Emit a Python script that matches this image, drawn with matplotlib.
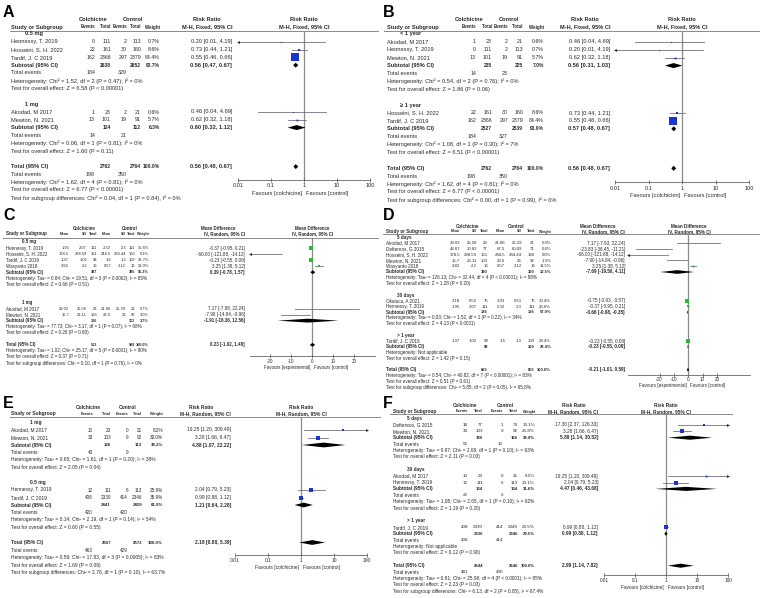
import numpy as np
import matplotlib
matplotlib.use("Agg")
import matplotlib.pyplot as plt
from matplotlib.ticker import NullLocator

plt.rcParams['font.family'] = ['Liberation Sans', 'DejaVu Sans']

# ---------------- A : dose, fixed RR ----------------
A_groups = ["0.5 mg", "1 mg"]
A_study = ["Hennessy, T. 2019", "Hosseini, S. H. 2022", "Tardif, J. C 2019", "Akodad, M 2017", "Mewton, N. 2021"]
A_grp = [0, 0, 0, 1, 1]
A_ev_c = [0, 22, 162, 1, 13]
A_n_c = [111, 161, 2366, 23, 101]
A_ev_k = [2, 30, 297, 2, 19]
A_n_k = [113, 160, 2379, 21, 91]
A_w = [0.7, 8.6, 84.4, 0.6, 5.7]
A_est = [0.20, 0.73, 0.55, 0.46, 0.62]
A_lo = [0.01, 0.44, 0.46, 0.04, 0.32]
A_hi = [4.19, 1.21, 0.66, 4.69, 1.18]
A_sub_n_c = [2638, 124]
A_sub_n_k = [2652, 112]
A_sub_w = [93.7, 6.3]
A_sub_est = [0.56, 0.60]
A_sub_lo = [0.47, 0.32]
A_sub_hi = [0.67, 1.12]
A_sub_ev_c = [184, 14]
A_sub_ev_k = [329, 21]
A_het = ["Heterogeneity: Chi² = 1.52, df = 2 (P = 0.47); I² = 0%",
         "Heterogeneity: Chi² = 0.06, df = 1 (P = 0.81); I² = 0%"]
A_z = ["Test for overall effect: Z = 6.58 (P < 0.00001)",
       "Test for overall effect: Z = 1.60 (P = 0.11)"]
A_tot = [2762, 2764, 100.0, 0.56, 0.48, 0.67]
A_tot_ev = [198, 350]
A_tot_het = "Heterogeneity: Chi² = 1.62, df = 4 (P = 0.81); I² = 0%"
A_tot_z = "Test for overall effect: Z = 6.77 (P < 0.00001)"
A_subdiff = "Test for subgroup differences: Chi² = 0.04, df = 1 (P = 0.84), I² = 0%"

# ---------------- B : follow-up, fixed RR ----------------
B_groups = ["< 1 year", "≥ 1 year"]
B_study = ["Akodad, M 2017", "Hennessy, T. 2019", "Mewton, N. 2021", "Hosseini, S. H. 2022", "Tardif, J. C 2019"]
B_grp = [0, 0, 0, 1, 1]
B_ev_c = [1, 0, 13, 22, 162]
B_n_c = [23, 111, 101, 161, 2366]
B_ev_k = [2, 2, 19, 30, 297]
B_n_k = [21, 113, 91, 160, 2379]
B_w = [0.6, 0.7, 5.7, 8.6, 84.4]
B_est = [0.46, 0.20, 0.62, 0.73, 0.55]
B_lo = [0.04, 0.01, 0.32, 0.44, 0.46]
B_hi = [4.69, 4.19, 1.18, 1.21, 0.66]
B_sub_n_c = [235, 2527]
B_sub_n_k = [225, 2539]
B_sub_w = [7.0, 93.0]
B_sub_est = [0.56, 0.57]
B_sub_lo = [0.31, 0.48]
B_sub_hi = [1.03, 0.67]
B_sub_ev_c = [14, 184]
B_sub_ev_k = [23, 327]
B_het = ["Heterogeneity: Chi² = 0.54, df = 2 (P = 0.76); I² = 0%",
         "Heterogeneity: Chi² = 1.08, df = 1 (P = 0.30); I² = 7%"]
B_z = ["Test for overall effect: Z = 1.86 (P = 0.06)",
       "Test for overall effect: Z = 6.51 (P < 0.00001)"]
B_tot = [2762, 2764, 100.0, 0.56, 0.48, 0.67]
B_tot_ev = [198, 350]
B_tot_het = "Heterogeneity: Chi² = 1.62, df = 4 (P = 0.81); I² = 0%"
B_tot_z = "Test for overall effect: Z = 6.77 (P < 0.00001)"
B_subdiff = "Test for subgroup differences: Chi² = 0.00, df = 1 (P = 0.99), I² = 0%"

# ---------------- C : dose, mean difference ----------------
C_groups = ["0.5 mg", "1 mg"]
C_study = ["Hennessy, T. 2019", "Hosseini, S. H. 2022", "Tardif, J. C 2019", "Wasyanto 2018", "Akodad, M 2017", "Mewton, N. 2021"]
C_grp = [0, 0, 0, 0, 1, 1]
C_mean_c = [1.95, 178.5, 1.37, 3.82, 29.03, 15.7]
C_sd_c = [2.07, 288.59, 1.02, 2.2, 25.58, 23.11]
C_n_c = [111, 161, 99, 16, 23, 103]
C_mean_k = [2.32, 244.5, 1.6, 0.57, 21.86, 23.6]
C_sd_k = [2.3, 284.44, 1.3, 3.12, 25.39, 26]
C_n_k = [111, 160, 109, 16, 21, 92]
C_w = [35.6, 0.1, 38.7, 21.9, 0.7, 3.0]
C_est = [-0.37, -66.00, -0.23, 3.25, 7.17, -7.90]
C_lo = [-0.95, -121.88, -0.55, 1.38, -7.88, -14.84]
C_hi = [0.21, -14.12, 0.09, 5.12, 22.24, -0.96]
C_sub_n_c = [387, 126]
C_sub_n_k = [395, 113]
C_sub_w = [96.3, 3.7]
C_sub_est = [0.39, -1.91]
C_sub_lo = [-0.78, -16.36]
C_sub_hi = [1.57, 12.56]
C_het = ["Heterogeneity: Tau² = 0.84; Chi² = 19.51, df = 3 (P = 0.0002); I² = 85%",
         "Heterogeneity: Tau² = 77.73; Chi² = 3.17, df = 1 (P = 0.07); I² = 68%"]
C_z = ["Test for overall effect: Z = 0.66 (P = 0.51)",
       "Test for overall effect: Z = 0.26 (P = 0.80)"]
C_tot = [513, 508, 100.0, 0.23, -1.02, 1.48]
C_tot_het = "Heterogeneity: Tau² = 1.02; Chi² = 25.17, df = 5 (P = 0.0001); I² = 80%"
C_tot_z = "Test for overall effect: Z = 0.37 (P = 0.71)"
C_subdiff = "Test for subgroup differences: Chi² = 0.10, df = 1 (P = 0.76), I² = 0%"

# ---------------- D : follow-up, mean difference ----------------
D_groups = ["5 days", "30 days", "> 1 year"]
D_study = ["Akodad, M 2017", "Deftereos, G 2015", "Hosseini, S. H. 2022", "Mewton, N. 2021", "Wasyanto 2018",
           "Okutucu, A 2021", "Hennessy, T. 2019", "Tardif, J. C 2019"]
D_grp = [0, 0, 0, 0, 0, 1, 1, 2]
D_mean_c = [29.03, 43.67, 178.5, 15.7, 3.82, 3.18, 1.95, 1.37]
D_sd_c = [25.58, 30.82, 288.59, 23.11, 2.2, 0.52, 2.07, 1.02]
D_n_c = [23, 77, 161, 103, 16, 75, 111, 99]
D_mean_k = [21.86, 67.5, 244.5, 23.6, 0.57, 3.93, 2.32, 1.6]
D_sd_k = [25.39, 60.09, 284.44, 26, 3.12, 0.61, 2.3, 1.3]
D_n_k = [21, 71, 160, 92, 16, 75, 111, 109]
D_w = [0.3, 0.4, 0.0, 1.3, 11.5, 30.4, 26.6, 29.4]
D_est = [7.17, -23.83, -66.00, -7.90, 3.25, -0.75, -0.37, -0.23]
D_lo = [-7.93, -36.45, -121.88, -14.84, 1.38, -0.93, -0.95, -0.55]
D_hi = [22.24, -11.21, -14.12, -0.96, 5.12, -0.57, 0.21, 0.09]
D_sub_n_c = [380, 186, 99]
D_sub_n_k = [360, 186, 109]
D_sub_w = [13.5, 57.0, 29.4]
D_sub_est = [-7.69, -0.66, -0.23]
D_sub_lo = [-19.50, -0.98, -0.55]
D_sub_hi = [4.11, -0.35, 0.09]
D_het = ["Heterogeneity: Tau² = 126.13; Chi² = 32.44, df = 4 (P < 0.00001); I² = 88%",
         "Heterogeneity: Tau² = 0.03; Chi² = 1.52, df = 1 (P = 0.22); I² = 34%",
         "Heterogeneity: Not applicable"]
D_z = ["Test for overall effect: Z = 1.28 (P = 0.20)",
       "Test for overall effect: Z = 4.13 (P < 0.0001)",
       "Test for overall effect: Z = 1.42 (P = 0.15)"]
D_tot = [665, 655, 100.0, -0.21, -1.01, 0.59]
D_tot_het = "Heterogeneity: Tau² = 0.54; Chi² = 40.82, df = 7 (P < 0.00001); I² = 83%"
D_tot_z = "Test for overall effect: Z = 0.51 (P = 0.61)"
D_subdiff = "Test for subgroup differences: Chi² = 5.85, df = 2 (P = 0.05), I² = 65.8%"

# ---------------- E : dose, random RR ----------------
E_groups = ["1 mg", "0.5 mg"]
E_study = ["Akodad, M 2017", "Mewton, N. 2021", "Hennessy, T. 2019", "Tardif, J. C 2019"]
E_grp = [0, 0, 1, 1]
E_ev_c = [10, 33, 12, 408]
E_n_c = [23, 103, 111, 2330]
E_ev_k = [0, 9, 6, 414]
E_n_k = [21, 92, 113, 2346]
E_w = [8.2, 30.0, 25.9, 35.9]
E_est = [19.25, 3.28, 2.04, 0.99]
E_lo = [1.20, 1.66, 0.79, 0.88]
E_hi = [309.49, 6.47, 5.23, 1.12]
E_sub_n_c = [126, 2441]
E_sub_n_k = [113, 2459]
E_sub_w = [38.2, 61.8]
E_sub_est = [4.88, 1.21]
E_sub_lo = [1.07, 0.64]
E_sub_hi = [22.22, 2.28]
E_sub_ev_c = [43, 420]
E_sub_ev_k = [9, 420]
E_het = ["Heterogeneity: Tau² = 0.65; Chi² = 1.61, df = 1 (P = 0.20); I² = 38%",
         "Heterogeneity: Tau² = 0.14; Chi² = 2.19, df = 1 (P = 0.14); I² = 54%"]
E_z = ["Test for overall effect: Z = 2.05 (P = 0.04)",
       "Test for overall effect: Z = 0.60 (P = 0.55)"]
E_tot = [2567, 2572, 100.0, 2.18, 0.88, 5.39]
E_tot_ev = [463, 429]
E_tot_het = "Heterogeneity: Tau² = 0.59; Chi² = 17.83, df = 3 (P = 0.0005); I² = 83%"
E_tot_z = "Test for overall effect: Z = 1.69 (P = 0.09)"
E_subdiff = "Test for subgroup differences: Chi² = 2.76, df = 1 (P = 0.10), I² = 63.7%"

# ---------------- F : follow-up, random RR ----------------
F_groups = ["5 days", "30 days", "> 1 year"]
F_study = ["Deftereos, G 2015", "Mewton, N. 2021", "Akodad, M 2017", "Hennessy, T. 2019", "Tardif, J. C 2019"]
F_grp = [0, 0, 1, 1, 2]
F_ev_c = [18, 33, 10, 12, 408]
F_n_c = [77, 103, 23, 111, 2330]
F_ev_k = [1, 9, 0, 6, 414]
F_n_k = [74, 92, 21, 113, 2346]
F_w = [13.1, 25.8, 8.5, 23.1, 29.5]
F_est = [17.30, 3.28, 19.25, 2.04, 0.99]
F_lo = [2.37, 1.66, 1.20, 0.79, 0.88]
F_hi = [126.33, 6.47, 309.49, 5.23, 1.12]
F_sub_n_c = [180, 134, 2330]
F_sub_n_k = [166, 134, 2346]
F_sub_w = [38.9, 31.6, 29.5]
F_sub_est = [5.89, 4.47, 0.99]
F_sub_lo = [1.14, 0.46, 0.88]
F_sub_hi = [30.52, 43.68, 1.12]
F_sub_ev_c = [51, 22, 408]
F_sub_ev_k = [10, 6, 414]
F_het = ["Heterogeneity: Tau² = 0.97; Chi² = 2.68, df = 1 (P = 0.10); I² = 63%",
         "Heterogeneity: Tau² = 1.95; Chi² = 2.65, df = 1 (P = 0.10); I² = 62%",
         "Heterogeneity: Not applicable"]
F_z = ["Test for overall effect: Z = 2.11 (P = 0.03)",
       "Test for overall effect: Z = 1.29 (P = 0.20)",
       "Test for overall effect: Z = 0.12 (P = 0.90)"]
F_tot = [2644, 2646, 100.0, 2.99, 1.14, 7.82]
F_tot_ev = [481, 430]
F_tot_het = "Heterogeneity: Tau² = 0.81; Chi² = 25.98, df = 4 (P < 0.0001); I² = 85%"
F_tot_z = "Test for overall effect: Z = 2.23 (P = 0.03)"
F_subdiff = "Test for subgroup differences: Chi² = 6.13, df = 2 (P = 0.05), I² = 67.4%"

rr_ticks = [0.01, 0.1, 1, 10, 100]
rr_ticklabels = ["0.01", "0.1", "1", "10", "100"]
md_ticks = [-20, -10, 0, 10, 20]
md_ticklabels = ["-20", "-10", "0", "10", "20"]

W, H = 760, 598
TXT = '#2a2a2a'
BLUE = '#1a35d4'
GREEN = '#25c025'
CI_COL = '#666677'

fig = plt.figure(figsize=(7.6, 5.98), dpi=100)
bg = fig.add_axes([0, 0, 1, 1])
bg.set_xlim(0, W)
bg.set_ylim(H, 0)
bg.axis('off')


def put(x, y, s, fs, ha='left', bold=False):
    bg.text(x, y, s, fontsize=fs, ha=ha, va='center', color=TXT,
            fontweight='bold' if bold else 'normal')


def fmtv(v):
    return str(v) if isinstance(v, int) else f"{v:g}"


def fmt_ci(e, l, h):
    return f"{e:.2f} [{l:.2f}, {h:.2f}]"


def draw_panel(L, groups, grp, study, cols, w, est, lo, hi,
               sub_cols, sub_w, sub_est, sub_lo, sub_hi, sub_ev, het, ztest,
               tot, tot_ev, tot_het, tot_z, subdiff):
    fs = L['fs']
    fn = fs * L['num']      # numbers in the table columns
    fh = fs * 0.8           # column header row
    step = L['step']
    bg.text(L['letter'][0], L['letter'][1], L['name'], fontsize=11.5, fontweight='bold',
            ha='left', va='center', color='black')

    # header
    for cx, s in zip(L['grp_hdr'], ["Colchicine", "Control"]):
        put(cx, L['hdr1'], s, fs, ha='center', bold=True)
    put(L['study_x'], L['hdr2'], "Study or Subgroup", fs, bold=True)
    for cx, s in zip(L['col_x'], L['col_hdr']):
        put(cx, L['hdr2'], s, fh, ha='right', bold=True)
    put(L['w_x'], L['hdr2'], "Weight", fh, ha='right', bold=True)
    put(L['est_hdr_c'], L['hdr1'], L['est_hdr'][0], fs, ha='center', bold=True)
    put(L['est_x'], L['hdr2'], L['est_hdr'][1], fs, ha='right', bold=True)
    fx0, fx1 = L['fx']
    fy0, fy1 = L['fy']
    put((fx0 + fx1) / 2, L['hdr1'], L['est_hdr'][0], fs, ha='center', bold=True)
    put((fx0 + fx1) / 2, L['hdr2'], L['est_hdr'][1], fs, ha='center', bold=True)
    x0, x1, ly = L['line']
    bg.plot([x0, x1], [ly, ly], color='#8a8a8a', lw=0.7)

    # forest axes, y in figure pixels
    ax = fig.add_axes([fx0 / W, 1 - fy1 / H, (fx1 - fx0) / W, (fy1 - fy0) / H])
    ax.set_xscale(L['scale'])
    ax.set_xlim(*L['xlim'])
    ax.set_ylim(fy1, fy0)
    ax.patch.set_alpha(0)
    for s in ['top', 'left', 'right']:
        ax.spines[s].set_visible(False)
    ax.spines['bottom'].set_color('#666666')
    ax.spines['bottom'].set_linewidth(0.6)
    ax.set_yticks([])
    ax.set_xticks(L['ticks'])
    ax.set_xticklabels([])
    ax.xaxis.set_minor_locator(NullLocator())
    ax.tick_params(axis='x', direction='inout', length=3, width=0.6, color='#666666')
    ax.axvline(L['null'], color='#8c8c8c', lw=0.9, zorder=1)
    for t, lab in zip(L['ticks'], L['ticklabels']):
        ax.text(t, L['tick_y'], lab, fontsize=fs, ha='center', va='center', color=TXT)
    if L['scale'] == 'log':
        frac = (np.log10(L['null']) - np.log10(L['xlim'][0])) / (np.log10(L['xlim'][1]) - np.log10(L['xlim'][0]))
    else:
        frac = (L['null'] - L['xlim'][0]) / (L['xlim'][1] - L['xlim'][0])
    nx = fx0 + frac * (fx1 - fx0)
    put(nx - 2, L['fav_y'], L['fav'][0], fs, ha='right')
    put(nx + 2, L['fav_y'], L['fav'][1], fs, ha='left')

    xa, xb = L['xlim']
    k = 0.78 * step / 7.8
    dh = 0.32 * step

    def diamond(e, l, h, y):
        ax.fill([l, e, h, e], [y, y - dh, y, y + dh], color='black', lw=0, zorder=4)

    def yy(i):
        return L['row0'] + i * step

    i = 0
    for g, gname in enumerate(groups):
        put(L['group_x'], yy(i), gname, fs, bold=True)
        i += 1
        for s in [j for j in range(len(study)) if grp[j] == g]:
            y = yy(i)
            put(L['study_x'], y, study[s], fs)
            for c, cx in enumerate(L['col_x']):
                put(cx, y, fmtv(cols[c][s]), fn, ha='right')
            put(L['w_x'], y, f"{w[s]:.1f}%", fn, ha='right')
            put(L['est_x'], y, fmt_ci(est[s], lo[s], hi[s]), fs, ha='right')
            l, h = max(lo[s], xa), min(hi[s], xb)
            ax.plot([l, h], [y, y], color=CI_COL, lw=0.55, zorder=2)
            if lo[s] <= xa * (1.0001 if xa > 0 else 1):
                ax.plot(xa, y, marker='<', ms=2.2, color='#333333', mew=0, zorder=3, clip_on=False)
            if hi[s] >= xb:
                ax.plot(xb, y, marker='>', ms=2.2, color='#333333', mew=0, zorder=3, clip_on=False)
            side = max(k * np.sqrt(w[s]), 1.1)
            ax.plot(est[s], y, marker='s', ms=side * 0.72, color=L['sq'], mew=0, zorder=3)
            i += 1
        y = yy(i)
        put(L['study_x'], y, "Subtotal (95% CI)", fs, bold=True)
        for c, cx in enumerate(L['col_x']):
            if sub_cols[c] is not None:
                put(cx, y, fmtv(sub_cols[c][g]), fn * 0.95, ha='right', bold=True)
        put(L['w_x'], y, f"{sub_w[g]:.1f}%", fn * 0.95, ha='right', bold=True)
        put(L['est_x'], y, fmt_ci(sub_est[g], sub_lo[g], sub_hi[g]), fs, ha='right', bold=True)
        diamond(sub_est[g], sub_lo[g], sub_hi[g], y)
        i += 1
        if sub_ev is not None:
            put(L['study_x'], yy(i), "Total events", fs)
            put(L['col_x'][0], yy(i), fmtv(sub_ev[0][g]), fn, ha='right')
            put(L['col_x'][2], yy(i), fmtv(sub_ev[1][g]), fn, ha='right')
            i += 1
        put(L['study_x'], yy(i), het[g], fs)
        i += 1
        put(L['study_x'], yy(i), ztest[g], fs)
        i += 1
        if g < len(groups) - 1:
            i += L['gap']
    i += 1
    y = yy(i)
    put(L['study_x'], y, "Total (95% CI)", fs, bold=True)
    put(L['col_x'][L['n_cols'][0]], y, fmtv(tot[0]), fn * 0.95, ha='right', bold=True)
    put(L['col_x'][L['n_cols'][1]], y, fmtv(tot[1]), fn * 0.95, ha='right', bold=True)
    put(L['w_x'], y, f"{tot[2]:.1f}%", fn * 0.95, ha='right', bold=True)
    put(L['est_x'], y, fmt_ci(tot[3], tot[4], tot[5]), fs, ha='right', bold=True)
    diamond(tot[3], tot[4], tot[5], y)
    i += 1
    if tot_ev is not None:
        put(L['study_x'], yy(i), "Total events", fs)
        put(L['col_x'][0], yy(i), fmtv(tot_ev[0]), fn, ha='right')
        put(L['col_x'][2], yy(i), fmtv(tot_ev[1]), fn, ha='right')
        i += 1
    for s in [tot_het, tot_z, subdiff]:
        put(L['study_x'], yy(i), s, fs)
        i += 1


bin_hdr = ["Events", "Total", "Events", "Total"]
con_hdr = ["Mean", "SD", "Total", "Mean", "SD", "Total"]

LA = dict(name="A", letter=(3, 12.5), hdr1=19.5, hdr2=27, line=(10, 378, 30.5), study_x=11, group_x=25,
          col_x=[95, 111, 127, 141], col_hdr=bin_hdr, n_cols=(1, 3), w_x=160, est_x=232, grp_hdr=[93, 133],
          est_hdr=("Risk Ratio", "M-H, Fixed, 95% CI"), est_hdr_c=207, fx=(238, 370), fy=(30.5, 180),
          scale='log', xlim=(0.01, 100), ticks=rr_ticks, ticklabels=rr_ticklabels, null=1,
          tick_y=185.5, fav_y=193, row0=34, step=7.8, gap=1, fs=4.1, num=0.92, sq=BLUE,
          fav=("Favours [colchicine]", "Favours [control]"))
LB = dict(name="B", letter=(383, 12.5), hdr1=19.5, hdr2=27, line=(384, 760, 30.5), study_x=387, group_x=400,
          col_x=[476, 492, 508, 523], col_hdr=bin_hdr, n_cols=(1, 3), w_x=544, est_x=610, grp_hdr=[469, 509],
          est_hdr=("Risk Ratio", "M-H, Fixed, 95% CI"), est_hdr_c=585, fx=(615, 749), fy=(30.5, 182),
          scale='log', xlim=(0.01, 100), ticks=rr_ticks, ticklabels=rr_ticklabels, null=1,
          tick_y=188, fav_y=195, row0=34, step=7.9, gap=1, fs=4.1, num=0.92, sq=BLUE,
          fav=("Favours [colchicien]", "Favours [control]"))
LC = dict(name="C", letter=(3, 216), hdr1=228, hdr2=234, line=(3, 378, 237.5), study_x=6, group_x=22,
          col_x=[69, 87, 97, 111, 126, 135], col_hdr=con_hdr, n_cols=(2, 5), w_x=149, est_x=245, grp_hdr=[84, 130],
          est_hdr=("Mean Difference", "IV, Random, 95% CI"), est_hdr_c=218, fx=(250, 375), fy=(237.5, 356),
          scale='linear', xlim=(-29.5, 30), ticks=md_ticks, ticklabels=md_ticklabels, null=0,
          tick_y=361, fav_y=367, row0=242, step=6.05, gap=2, fs=3.25, num=0.88, sq=GREEN,
          fav=("Favours [experimental]", "Favours [control]"))
LD = dict(name="D", letter=(383, 215), hdr1=226, hdr2=231.5, line=(383, 760, 233.5), study_x=386, group_x=397,
          col_x=[460, 477, 488, 505, 522, 535], col_hdr=con_hdr, n_cols=(2, 5), w_x=551, est_x=625, grp_hdr=[467, 516],
          est_hdr=("Mean Difference", "IV, Random, 95% CI"), est_hdr_c=598, fx=(628, 750), fy=(233.5, 375),
          scale='linear', xlim=(-42, 43), ticks=md_ticks, ticklabels=md_ticklabels, null=0,
          tick_y=380, fav_y=385.5, row0=237.5, step=5.75, gap=1, fs=3.3, num=0.92, sq=GREEN,
          fav=("Favours [experimental]", "Favours [control]"))
LE = dict(name="E", letter=(3, 404), hdr1=407.5, hdr2=414, line=(10, 380, 416.5), study_x=11, group_x=30,
          col_x=[93, 111, 128, 142], col_hdr=bin_hdr, n_cols=(1, 3), w_x=163, est_x=231, grp_hdr=[88, 128],
          est_hdr=("Risk Ratio", "M-H, Random, 95% CI"), est_hdr_c=201, fx=(235, 367), fy=(416.5, 555),
          scale='log', xlim=(0.01, 100), ticks=rr_ticks, ticklabels=rr_ticklabels, null=1,
          tick_y=560.5, fav_y=567, row0=422.5, step=7.5, gap=1, fs=3.5, num=0.95, sq=BLUE,
          fav=("Favours [colchicine]", "Favours [control]"))
LF = dict(name="F", letter=(383, 404), hdr1=405.5, hdr2=411.5, line=(390, 732, 413.5), study_x=393, group_x=407,
          col_x=[468, 483, 503, 518], col_hdr=bin_hdr, n_cols=(1, 3), w_x=535, est_x=598, grp_hdr=[465, 505],
          est_hdr=("Risk Ratio", "M-H, Random, 95% CI"), est_hdr_c=574, fx=(604, 728), fy=(413.5, 575),
          scale='log', xlim=(0.01, 100), ticks=rr_ticks, ticklabels=rr_ticklabels, null=1,
          tick_y=581, fav_y=587, row0=418.5, step=6.4, gap=1, fs=3.4, num=0.95, sq=BLUE,
          fav=("Favours [colchicine]", "Favours [control]"))

draw_panel(LA, A_groups, A_grp, A_study, [A_ev_c, A_n_c, A_ev_k, A_n_k], A_w, A_est, A_lo, A_hi,
           [None, A_sub_n_c, None, A_sub_n_k], A_sub_w, A_sub_est, A_sub_lo, A_sub_hi,
           [A_sub_ev_c, A_sub_ev_k], A_het, A_z, A_tot, A_tot_ev, A_tot_het, A_tot_z, A_subdiff)
draw_panel(LB, B_groups, B_grp, B_study, [B_ev_c, B_n_c, B_ev_k, B_n_k], B_w, B_est, B_lo, B_hi,
           [None, B_sub_n_c, None, B_sub_n_k], B_sub_w, B_sub_est, B_sub_lo, B_sub_hi,
           [B_sub_ev_c, B_sub_ev_k], B_het, B_z, B_tot, B_tot_ev, B_tot_het, B_tot_z, B_subdiff)
draw_panel(LC, C_groups, C_grp, C_study, [C_mean_c, C_sd_c, C_n_c, C_mean_k, C_sd_k, C_n_k], C_w, C_est, C_lo, C_hi,
           [None, None, C_sub_n_c, None, None, C_sub_n_k], C_sub_w, C_sub_est, C_sub_lo, C_sub_hi,
           None, C_het, C_z, C_tot, None, C_tot_het, C_tot_z, C_subdiff)
draw_panel(LD, D_groups, D_grp, D_study, [D_mean_c, D_sd_c, D_n_c, D_mean_k, D_sd_k, D_n_k], D_w, D_est, D_lo, D_hi,
           [None, None, D_sub_n_c, None, None, D_sub_n_k], D_sub_w, D_sub_est, D_sub_lo, D_sub_hi,
           None, D_het, D_z, D_tot, None, D_tot_het, D_tot_z, D_subdiff)
draw_panel(LE, E_groups, E_grp, E_study, [E_ev_c, E_n_c, E_ev_k, E_n_k], E_w, E_est, E_lo, E_hi,
           [None, E_sub_n_c, None, E_sub_n_k], E_sub_w, E_sub_est, E_sub_lo, E_sub_hi,
           [E_sub_ev_c, E_sub_ev_k], E_het, E_z, E_tot, E_tot_ev, E_tot_het, E_tot_z, E_subdiff)
draw_panel(LF, F_groups, F_grp, F_study, [F_ev_c, F_n_c, F_ev_k, F_n_k], F_w, F_est, F_lo, F_hi,
           [None, F_sub_n_c, None, F_sub_n_k], F_sub_w, F_sub_est, F_sub_lo, F_sub_hi,
           [F_sub_ev_c, F_sub_ev_k], F_het, F_z, F_tot, F_tot_ev, F_tot_het, F_tot_z, F_subdiff)

fig.savefig("out.png", dpi=100)
